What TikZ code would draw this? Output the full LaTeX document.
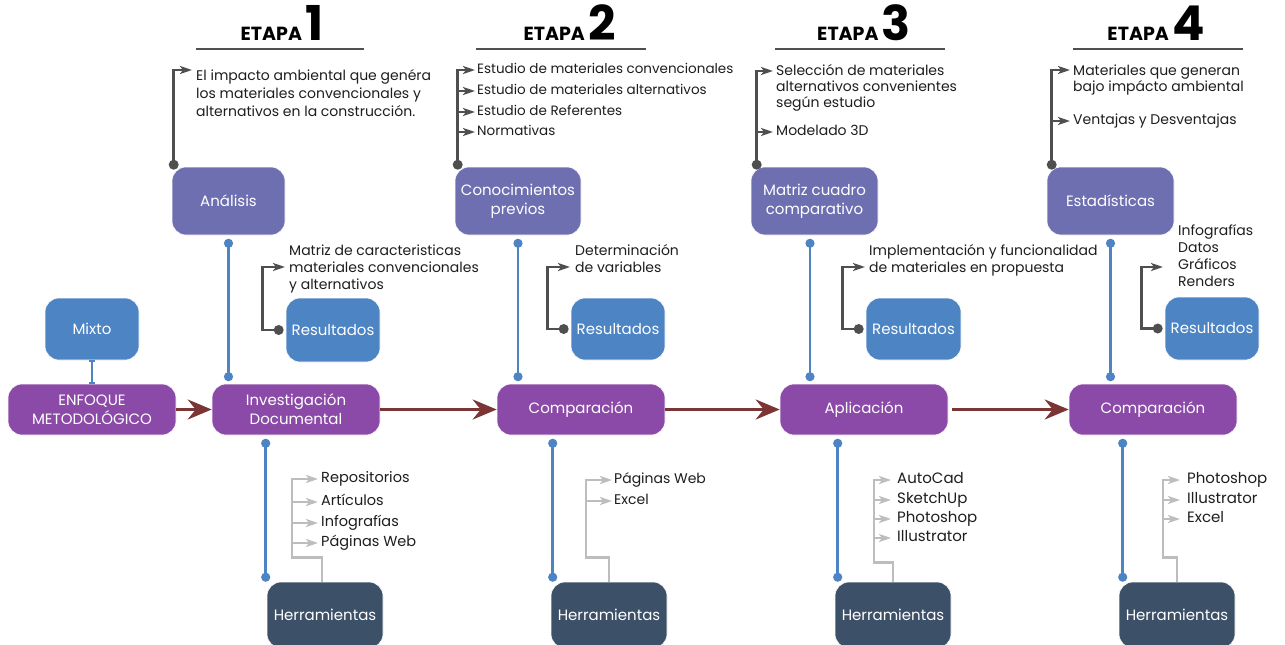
\documentclass[tikz,border=0pt]{standalone}
\usepackage{fontspec}
\setmainfont{Poppins}
\usetikzlibrary{arrows.meta,calc}

\definecolor{lilac}{HTML}{6E6FB1}
\definecolor{steel}{HTML}{4C84C4}
\definecolor{plum}{HTML}{8C4AA8}
\definecolor{slate}{HTML}{3C5068}
\definecolor{maroon}{HTML}{7B3535}
\definecolor{ink}{HTML}{4F4F4F}
\definecolor{ash}{HTML}{BDBDBD}
\definecolor{txt}{HTML}{1E1E1E}

\newcommand\stagenum[1]{{\fontsize{48}{48}\selectfont #1}}

\begin{document}
\begin{tikzpicture}[x=1pt,y=-1pt,
  card/.style={rounded corners=14pt, inner sep=0pt, align=center, text=white,
    font=\fontsize{15}{19}\selectfont, draw=white, line width=0.6pt},
  stagebox/.style={card, fill=lilac, minimum width=127pt, minimum height=68pt},
  resbox/.style={card, fill=steel, minimum width=94pt, minimum height=63pt},
  mainbox/.style={card, fill=plum, minimum width=168pt, minimum height=51pt},
  toolbox/.style={card, fill=slate, minimum width=116pt, minimum height=66pt},
  note/.style={inner sep=0pt, anchor=base west, align=left, text=txt,
    font=\fontsize{14}{17}\selectfont},
  item/.style={inner sep=0pt, anchor=west, text=txt, text height=10pt, text depth=3pt,
    font=\fontsize{14}{17}\selectfont},
  title/.style={inner sep=0pt, anchor=base, text=black,
    font=\fontsize{19}{19}\selectfont\bfseries},
  flow/.style={maroon, line width=3.2pt, -{Stealth[length=24pt,width=20pt,inset=8pt]}},
  stem/.style={steel, line width=2.6pt, {Circle[length=9pt]}-{Circle[length=9pt]}},
  lead/.style={ink, line width=2.6pt, -{Stealth[length=12pt,width=8pt,inset=3pt]}},
  tool/.style={ash, line width=2.6pt, -{Stealth[length=12pt,width=8pt,inset=3pt]}},
  rule/.style={ink, line width=2pt}
]
\useasboundingbox (0,0) rectangle (1285,645);
\fill[white] (0,0) rectangle (1285,645);

% ---------- stage headers ----------
\node[title] (h1) at (282,40) {ETAPA\,\stagenum{1}};
\node[title] (h2) at (569.5,40) {ETAPA\,\stagenum{2}};
\node[title] (h3) at (864,40) {ETAPA\,\stagenum{3}};
\node[title] (h4) at (1156,40) {ETAPA\,\stagenum{4}};
\draw[rule] (196,49) -- (364,49);
\draw[rule] (476,49) -- (646,49);
\draw[rule] (775,49) -- (945,49);
\draw[rule] (1073,49) -- (1243,49);

% ---------- boxes ----------
\node[stagebox, minimum width=113pt] (ana) at (228.5,201) {Análisis};
\node[stagebox, minimum width=126pt] (con) at (518,201) {Conocimientos\\previos};
\node[stagebox] (mat) at (814.5,201) {Matriz cuadro\\comparativo};
\node[stagebox] (est) at (1110.5,201) {Estadísticas};

\node[resbox, minimum height=64pt] (res1) at (333,330) {Resultados};
\node[resbox, minimum height=62pt] (res2) at (618,329) {Resultados};
\node[resbox, minimum width=95pt, minimum height=62pt] (res3) at (913.5,329) {Resultados};
\node[resbox] (res4) at (1212,328.5) {Resultados};
\node[resbox, minimum height=62pt] (mix) at (92,329) {Mixto};

\node[mainbox] (enf) at (92,409.5) {ENFOQUE\\METODOLÓGICO};
\node[mainbox] (inv) at (296,409.5) {Investigación\\Documental};
\node[mainbox] (comp1) at (581,409.5) {Comparación};
\node[mainbox] (apl) at (864,409.5) {Aplicación};
\node[mainbox] (comp2) at (1153,409.5) {Comparación};

\node[toolbox] (her1) at (325,615) {Herramientas};
\node[toolbox] (her2) at (609,615) {Herramientas};
\node[toolbox] (her3) at (893,615) {Herramientas};
\node[toolbox] (her4) at (1177,615) {Herramientas};

% ---------- main flow ----------
\draw[steel, line width=1.5pt, {Bar[width=6pt]}-{Bar[width=6pt]}] (mix.south) -- (enf.north);
\draw[flow] (enf.east) -- (inv.west);
\draw[flow] (inv.east) -- (comp1.west);
\draw[flow] (comp1.east) -- (apl.west);
\draw[flow, shorten <=4pt] (apl.east) -- (comp2.west);

% ---------- blue stems ----------
\draw[stem] ([yshift=-3.5pt]ana.south) -- ([yshift=2.5pt]ana.south |- inv.north);
\draw[stem] ([yshift=-3.5pt]con.south) -- ([yshift=2.5pt]con.south |- comp1.north);
\draw[stem] ([xshift=-4.5pt,yshift=-3.5pt]mat.south) -- ([xshift=-4.5pt,yshift=2.5pt]mat.south |- apl.north);
\draw[stem] ([yshift=-3.5pt]est.south) -- ([yshift=2.5pt]est.south |- comp2.north);

\draw[stem] ([xshift=54pt,yshift=-3.5pt]inv.south west) -- ([xshift=54pt]inv.south west |- her1.north);
\draw[stem] ([xshift=56pt,yshift=-3.5pt]comp1.south west) -- ([xshift=56pt]comp1.south west |- her2.north);
\draw[stem] ([xshift=58pt,yshift=-3.5pt]apl.south west) -- ([xshift=58pt]apl.south west |- her3.north);
\draw[stem] ([xshift=54pt,yshift=-3.5pt]comp2.south west) -- ([xshift=54pt]comp2.south west |- her4.north);

% ---------- stage 1 notes ----------
\coordinate (k1) at ([xshift=2pt,yshift=2pt]ana.north west);
\coordinate (p1) at (192,70);
\node[note, font=\fontsize{14}{18}\selectfont] (n1) at (196,116)
  {El impacto ambiental que genéra\\los materiales convencionales y\\alternativos en la construcción.};
\draw[lead] (k1) |- (p1);
\fill[ink] (k1) circle (5pt);

\coordinate (q1) at ([xshift=-7pt]res1.west);
\coordinate (u1) at (285,267);
\node[note] (r1) at (289,289) {Matriz de caracteristicas\\materiales convencionales\\y alternativos};
\draw[lead] (q1) -- ++(-16,0) |- (u1);
\fill[ink] (q1) circle (5pt);

\node[item, font=\fontsize{14.5}{17}\selectfont] (t1a) at (321,479) {Repositorios};
\node[item, font=\fontsize{14.5}{17}\selectfont] (t1b) at (321,502) {Artículos};
\node[item, font=\fontsize{14.5}{17}\selectfont] (t1c) at (321,523) {Infografías};
\node[item, font=\fontsize{14.5}{17}\selectfont] (t1d) at (321,543) {Páginas Web};
\draw[tool] ([xshift=-3pt]her1.north) -- ++(0,-24) -| ($(t1a.west)+(-29,0)$) -- ([xshift=-3pt]t1a.west);
\foreach \n in {t1b,t1c,t1d}
  \draw[tool] ($(\n.west)+(-29,0)$) -- ([xshift=-3pt]\n.west);

% ---------- stage 2 notes ----------
\coordinate (k2) at ([xshift=3pt,yshift=2pt]con.north west);
\node[item, font=\fontsize{13.5}{17}\selectfont] (s2a) at (477,70) {Estudio de materiales convencionales};
\node[item, font=\fontsize{13.5}{17}\selectfont] (s2b) at (477,91) {Estudio de materiales alternativos};
\node[item, font=\fontsize{13.5}{17}\selectfont] (s2c) at (477,112) {Estudio de Referentes};
\node[item, font=\fontsize{13.5}{17}\selectfont] (s2d) at (477,132) {Normativas};
\draw[lead] (k2) |- ([xshift=-2pt]s2a.west);
\foreach \n in {s2b,s2c,s2d}
  \draw[lead] (k2 |- \n.west) -- ([xshift=-2pt]\n.west);
\fill[ink] (k2) circle (5pt);

\coordinate (q2) at ([xshift=-7pt]res2.west);
\coordinate (u2) at (570,267);
\node[note] (r2) at (575,272) {Determinación\\de variables};
\draw[lead] (q2) -- ++(-16,0) |- (u2);
\fill[ink] (q2) circle (5pt);

\node[item] (t2a) at (614,480) {Páginas Web};
\node[item] (t2b) at (614,501) {Excel};
\draw[tool] (her2.north) -- ++(0,-24) -| ($(t2a.west)+(-28,0)$) -- ([xshift=-2pt]t2a.west);
\draw[tool] ($(t2b.west)+(-28,0)$) -- ([xshift=-2pt]t2b.west);

% ---------- stage 3 notes ----------
\coordinate (k3) at ([xshift=6pt,yshift=2pt]mat.north west);
\coordinate (p3) at (773,71);
\node[note, font=\fontsize{14}{16}\selectfont] (n3) at (776,107)
  {Selección de materiales\\alternativos convenientes\\según estudio};
\node[item] (s3) at (776,132) {Modelado 3D};
\draw[lead] (k3) |- (p3);
\draw[lead] (k3 |- s3.west) -- ([xshift=-3pt]s3.west);
\fill[ink] (k3) circle (5pt);

\coordinate (q3) at ([xshift=-7pt]res3.west);
\coordinate (u3) at (865,267);
\node[note] (r3) at (869,272) {Implementación y funcionalidad\\de materiales en propuesta};
\draw[lead] (q3) -- ++(-16,0) |- (u3);
\fill[ink] (q3) circle (5pt);

\node[item, font=\fontsize{15}{17}\selectfont] (t3a) at (897,480) {AutoCad};
\node[item, font=\fontsize{15}{17}\selectfont] (t3b) at (897,500) {SketchUp};
\node[item, font=\fontsize{15}{17}\selectfont] (t3c) at (897,519) {Photoshop};
\node[item, font=\fontsize{15}{17}\selectfont] (t3d) at (897,538) {Illustrator};
\draw[tool] (her3.north) -- ++(0,-19) -| ($(t3a.west)+(-23,0)$) -- ([xshift=-6pt]t3a.west);
\foreach \n in {t3b,t3c,t3d}
  \draw[tool] ($(\n.west)+(-23,0)$) -- ([xshift=-6pt]\n.west);

% ---------- stage 4 notes ----------
\coordinate (k4) at ([xshift=5pt,yshift=2pt]est.north west);
\coordinate (p4) at (1070,70);
\node[note, font=\fontsize{14}{16.5}\selectfont] (n4) at (1073,91.5)
  {Materiales que generan\\bajo impácto ambiental};
\node[item] (s4) at (1073,121) {Ventajas y Desventajas};
\draw[lead] (k4) |- (p4);
\draw[lead] (k4 |- s4.west) -- ([xshift=-3pt]s4.west);
\fill[ink] (k4) circle (5pt);

\coordinate (q4) at ([xshift=-7pt]res4.west);
\coordinate (u4) at (1163,267);
\node[note] (r4) at (1178,286) {Infografías\\Datos\\Gráficos\\Renders};
\draw[lead] (q4) -- ++(-16,0) |- (u4);
\fill[ink] (q4) circle (5pt);

\node[item, font=\fontsize{15}{17}\selectfont] (t4a) at (1187,480) {Photoshop};
\node[item, font=\fontsize{15}{17}\selectfont] (t4b) at (1187,500) {Illustrator};
\node[item, font=\fontsize{15}{17}\selectfont] (t4c) at (1187,519) {Excel};
\draw[tool] (her4.north) -- ++(0,-24) -| ($(t4a.west)+(-24,0)$) -- ([xshift=-7pt]t4a.west);
\foreach \n in {t4b,t4c}
  \draw[tool] ($(\n.west)+(-24,0)$) -- ([xshift=-7pt]\n.west);
\end{tikzpicture}
\end{document}
